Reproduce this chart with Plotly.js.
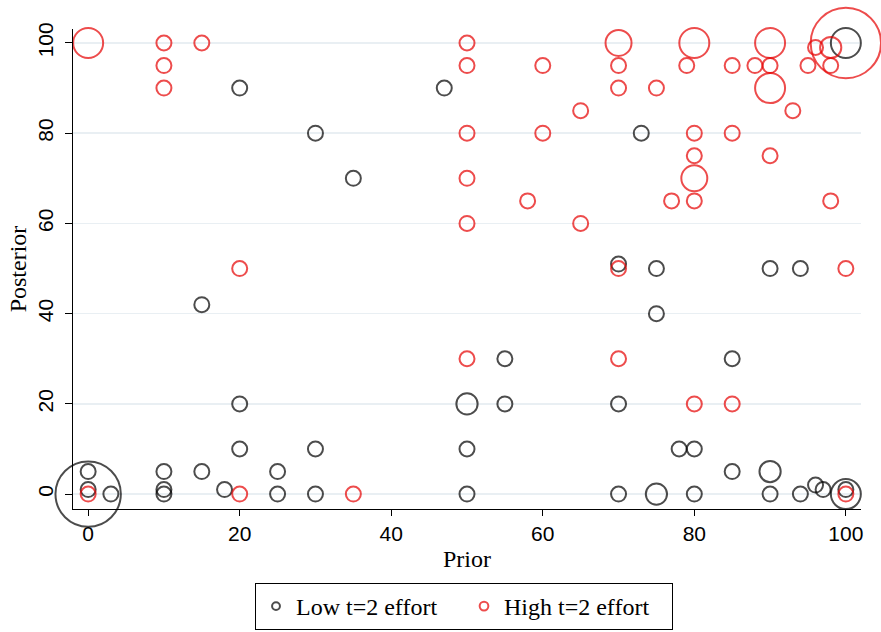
<!DOCTYPE html>
<html><head><meta charset="utf-8">
<script src="https://cdn.plot.ly/plotly-3.0.1.min.js"></script>
<style>html,body{margin:0;padding:0;background:#fff}</style>
</head><body><div id="chart" style="width:881px;height:632px"></div>
<script>
// Low t=2 effort (black)
const lowPrior = [0,0,0,3,10,10,10,15,15,18,20,20,20,25,25,30,30,30,35,47,50,50,50,55,55,70,70,70,73,75,75,75,78,80,80,85,85,90,90,90,94,94,96,97,100,100,100];
const lowPosterior = [0,1,5,0,0,1,5,5,42,1,10,20,90,0,5,0,10,80,70,90,0,10,20,20,30,0,20,51,80,0,40,50,10,0,10,5,30,0,5,50,0,50,2,1,0,1,100];
const lowCount = [19,1,1,1,1,1,1,1,1,1, 1,1,1,1,1,1,1,1,1,1, 1,1,2,1,1,1,1,1,1,2, 1,1,1,1,1,1,1,1,2,1, 1,1,1,1,4,1,4];

// High t=2 effort (red)
const highPrior = [0,0,10,10,10,15,20,20,35,50,50,50,50,50,50,58,60,60,65,65,70,70,70,70,70,75,77,79,80,80,80,80,80,80,85,85,85,88,90,90,90,90,93,95,96,98,98,98,100,100,100];
const highPosterior = [0,100,90,95,100,100,0,50,0,30,60,70,80,95,100,65,80,95,60,85,30,50,90,95,100,90,65,95,20,65,70,75,80,100,20,80,95,95,75,90,95,100,85,95,99,65,95,99,0,50,100];
const highCount = [1,4,1,1,1,1,1,1,1,1, 1,1,1,1,1,1,1,1,1,1, 1,1,1,1,3,1,1,1,1,1, 3,1,1,4,1,1,1,1,1,4, 1,4,1,1,1,1,1,2,1,1,22];

const seriesNames = ['Low t=2 effort', 'High t=2 effort'];
const xTicks = [0,20,40,60,80,100];
const yTicks = [0,20,40,60,80,100];

const K = 5;                 // scale so the legend symbol gets a sensible size
const SIZEREF = K / 112.5;   // count 1 -> 15px diameter, area proportional to count

function trace(x, y, c, name, color) {
  return {
    type: 'scatter', mode: 'markers', name: name,
    x: x, y: y, cliponaxis: false,
    marker: {
      symbol: 'circle-open', color: color,
      size: c.map(v => v * K), sizemode: 'area', sizeref: SIZEREF,
      line: {width: 2, color: color}
    },
    hoverinfo: 'x+y'
  };
}

const data = [
  trace(lowPrior, lowPosterior, lowCount, seriesNames[0], '#000000'),
  trace(highPrior, highPosterior, highCount, seriesNames[1], '#e60000')
];

const sans = 'Liberation Sans, Arial, Helvetica, sans-serif';
const serif = 'Liberation Serif, Times New Roman, serif';

const layout = {
  width: 881, height: 632,
  margin: {l: 73, r: 20, t: 29, b: 123},
  paper_bgcolor: '#ffffff', plot_bgcolor: '#ffffff',
  showlegend: true,
  xaxis: {
    range: [-2, 102], tickvals: xTicks, ticktext: xTicks.map(String),
    automargin: false,
    showgrid: false, zeroline: false,
    showline: true, linecolor: '#000', linewidth: 1,
    ticks: 'outside', ticklen: 6, tickcolor: '#000',
    tickfont: {family: sans, size: 21, color: '#000'},
    title: {text: 'Prior', font: {family: serif, size: 24, color: '#000'}, standoff: 5}
  },
  yaxis: {
    range: [-3.3, 103.1], tickvals: yTicks, ticktext: yTicks.map(String),
    automargin: false,
    showgrid: true, gridcolor: '#e9eff3', gridwidth: 1.5, zeroline: false,
    showline: true, linecolor: '#000', linewidth: 1,
    ticks: 'outside', ticklen: 7, tickcolor: '#000', tickangle: -90,
    ticklabelstandoff: 4,
    tickfont: {family: sans, size: 21, color: '#000'},
    title: {text: 'Posterior', font: {family: serif, size: 24, color: '#000'}, standoff: 0}
  },
  legend: {
    orientation: 'h', x: 0.4962, xanchor: 'center',
    yref: 'container', y: 0.0775, yanchor: 'top',
    bordercolor: '#000', borderwidth: 1, bgcolor: '#fff',
    font: {family: serif, size: 24, color: '#000'},
    itemsizing: 'trace', entrywidth: 163
  }
};

Plotly.newPlot('chart', data, layout, {displayModeBar: false, staticPlot: true});
</script>
</body></html>
